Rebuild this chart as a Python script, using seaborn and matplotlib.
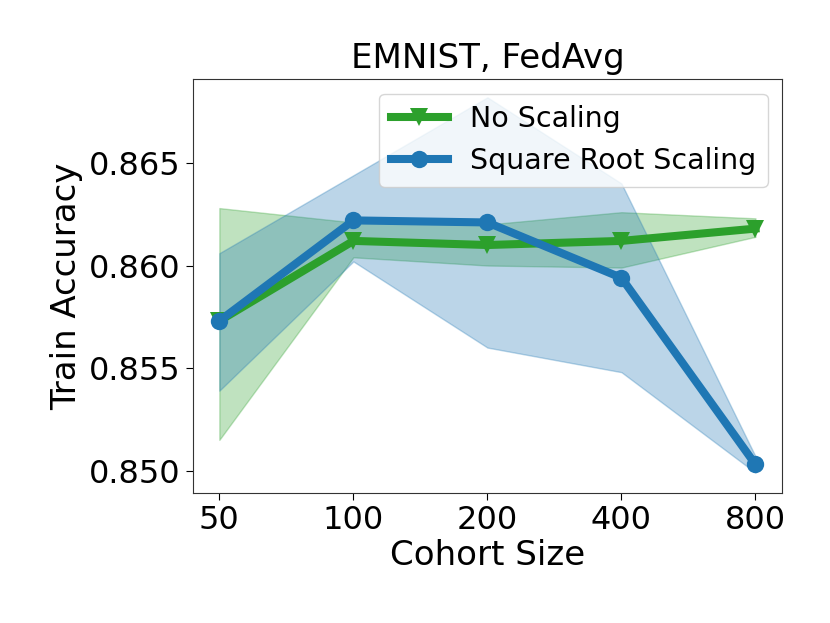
import numpy as np
import pandas as pd
import matplotlib
matplotlib.use("Agg")
import matplotlib.pyplot as plt
import seaborn as sns

# values
cohort_sizes = [50, 100, 200, 400, 800]

no_scaling_mean = [0.8573, 0.8612, 0.8610, 0.8612, 0.8618]
no_scaling_low = [0.8515, 0.8604, 0.8600, 0.8599, 0.8614]
no_scaling_high = [0.8628, 0.8621, 0.8620, 0.8626, 0.8623]

sqrt_mean = [0.8573, 0.8622, 0.8621, 0.8594, 0.8503]
sqrt_low = [0.8539, 0.8602, 0.8560, 0.8548, 0.8499]
sqrt_high = [0.8606, 0.8644, 0.8682, 0.8640, 0.8507]

series = [
    ("No Scaling", no_scaling_mean, no_scaling_low, no_scaling_high, "#2ca02c", "v"),
    ("Square Root Scaling", sqrt_mean, sqrt_low, sqrt_high, "#1f77b4", "o"),
]

pos = np.arange(len(cohort_sizes))

fig = plt.figure(figsize=(8.3, 6.23), dpi=100)
ax = fig.add_axes([0.232, 0.2087, 0.9425 - 0.232, 0.8724 - 0.2087])

# bands first so the lines sit on top
for name, mean, low, high, color, marker in series:
    ax.fill_between(pos, low, high, color=color, alpha=0.3, linewidth=1)

for name, mean, low, high, color, marker in series:
    df = pd.DataFrame({"pos": pos, "acc": mean})
    sns.lineplot(x="pos", y="acc", data=df, ax=ax, color=color, marker=marker,
                 linewidth=5.8, markersize=12.5, markeredgewidth=0, label=name)

ax.set_xlim(-0.2, 4.2)
ax.set_ylim(0.84891, 0.86907)
ax.set_xticks(pos)
ax.set_xticklabels([str(c) for c in cohort_sizes])
ax.set_yticks([0.850, 0.855, 0.860, 0.865])
ax.set_yticklabels(["0.850", "0.855", "0.860", "0.865"])
ax.tick_params(labelsize=23, length=5)

ax.set_xlabel("Cohort Size", fontsize=24.5, labelpad=2)
ax.set_ylabel("Train Accuracy", fontsize=24.5)
ax.set_title("EMNIST, FedAvg", fontsize=24.5, pad=8)
ax.legend(loc="upper right", fontsize=20.5)

for s in ax.spines.values():
    s.set_color("#333333")

fig.savefig("out.png", dpi=100)
